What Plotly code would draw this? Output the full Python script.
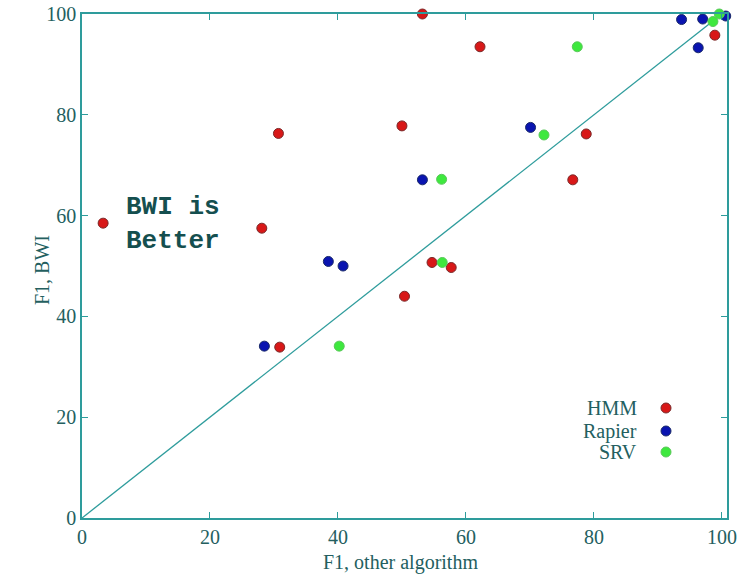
import plotly.graph_objects as go

# ---- data ----
hmm_x = [3.3, 28.1, 30.7, 30.9, 50.0, 50.4, 53.2, 54.7, 57.7, 62.2, 76.7, 78.8, 98.9]
hmm_y = [58.5, 57.5, 76.3, 33.9, 77.8, 44.0, 100.0, 50.7, 49.7, 93.5, 67.1, 76.2, 95.8]

rapier_x = [28.5, 38.5, 40.8, 53.2, 70.1, 93.7, 96.3, 97.0, 100.6]
rapier_y = [34.1, 50.9, 50.0, 67.1, 77.5, 98.9, 93.3, 99.0, 99.6]

srv_x = [40.2, 56.2, 56.3, 72.2, 77.4, 98.6, 99.6]
srv_y = [34.1, 67.2, 50.7, 76.0, 93.5, 98.5, 100.0]

diag = [0, 100]

x_ticks = [0, 20, 40, 60, 80, 100]
y_ticks = [0, 20, 40, 60, 80, 100]

series = [
    ("HMM", hmm_x, hmm_y, "#d81818", "#7a2a2a"),
    ("Rapier", rapier_x, rapier_y, "#0a14b0", "#1a2a6a"),
    ("SRV", srv_x, srv_y, "#3ee83e", "#5ac85a"),
]

LINE = "#2e9c9c"
TXT = "#245f5f"
SERIF = "Liberation Serif, Times New Roman, serif"

fig = go.Figure()
fig.add_trace(go.Scatter(x=diag, y=diag, mode="lines",
                         line=dict(color=LINE, width=1.3),
                         showlegend=False, hoverinfo="skip"))
for name, xs, ys, col, edge in series:
    fig.add_trace(go.Scatter(x=xs, y=ys, mode="markers", name=name,
                             marker=dict(size=10, color=col,
                                         line=dict(color=edge, width=1)),
                             cliponaxis=False, showlegend=False))

# target plot area in page px: 82..727 x 14..518 (body margin removed below)
W, H = 741, 575
ML, MT = 82, 14
MR = W - 727
MB = H - 518
pw, ph = W - ML - MR, H - MT - MB

def px_to_paper(px, py):
    return (px - ML) / pw, (H - MB - py) / ph

annotations = []
shapes = []
# legend (text right-justified, key to the right, gnuplot style)
leg_rows = [("HMM", 408), ("Rapier", 431), ("SRV", 452)]
for (name, xs, ys, col, edge), (lbl, py) in zip(series, leg_rows):
    tx, ty = px_to_paper(639, py)
    annotations.append(dict(x=tx, y=ty, xref="paper", yref="paper",
                            text=lbl, showarrow=False, xanchor="right",
                            yanchor="middle",
                            font=dict(family=SERIF, size=20, color=TXT)))
    x0, y0 = px_to_paper(661, py + 5)
    x1, y1 = px_to_paper(671, py - 5)
    shapes.append(dict(type="circle", xref="paper", yref="paper",
                       x0=x0, x1=x1, y0=y0, y1=y1,
                       fillcolor=col, line=dict(color=edge, width=1)))

# axis titles
ax, ay = px_to_paper(400, 562)
annotations.append(dict(x=ax, y=ay, xref="paper", yref="paper",
                        text="F1, other algorithm", showarrow=False,
                        xanchor="center", yanchor="middle",
                        font=dict(family=SERIF, size=20, color=TXT)))
bx, by = px_to_paper(42, 270)
annotations.append(dict(x=bx, y=by, xref="paper", yref="paper",
                        text="F1, BWI", showarrow=False, textangle=-90,
                        xanchor="center", yanchor="middle",
                        font=dict(family=SERIF, size=20, color=TXT)))
# inner label
annotations.append(dict(x=6.6, y=58.4, xref="x", yref="y",
                        text="BWI is<br>Better", showarrow=False,
                        xanchor="left", yanchor="middle", align="left",
                        font=dict(family="Liberation Mono, Courier New, monospace",
                                  size=26, color="#154f4f", weight="bold")))

axis_common = dict(showgrid=False, zeroline=False, showline=True,
                   linecolor=LINE, linewidth=1.6, mirror="allticks",
                   ticks="inside", ticklen=6, tickwidth=1.4, tickcolor=LINE,
                   automargin=False,
                   tickfont=dict(family=SERIF, size=20, color=TXT))

fig.update_layout(
    width=W, height=H,
    margin=dict(l=ML, r=MR, t=MT, b=MB),
    paper_bgcolor="white", plot_bgcolor="white",
    xaxis=dict(range=[0, 100.8], tickvals=x_ticks,
               ticktext=[str(v) for v in x_ticks], **axis_common),
    yaxis=dict(range=[0, 100], tickvals=y_ticks,
               ticktext=[str(v) for v in y_ticks], **axis_common),
    annotations=annotations, shapes=shapes,
)

fig.write_html("out.html",
               config={"displayModeBar": False},
               post_script="document.body.style.margin='0';"
                           "document.body.style.overflow='hidden';")
